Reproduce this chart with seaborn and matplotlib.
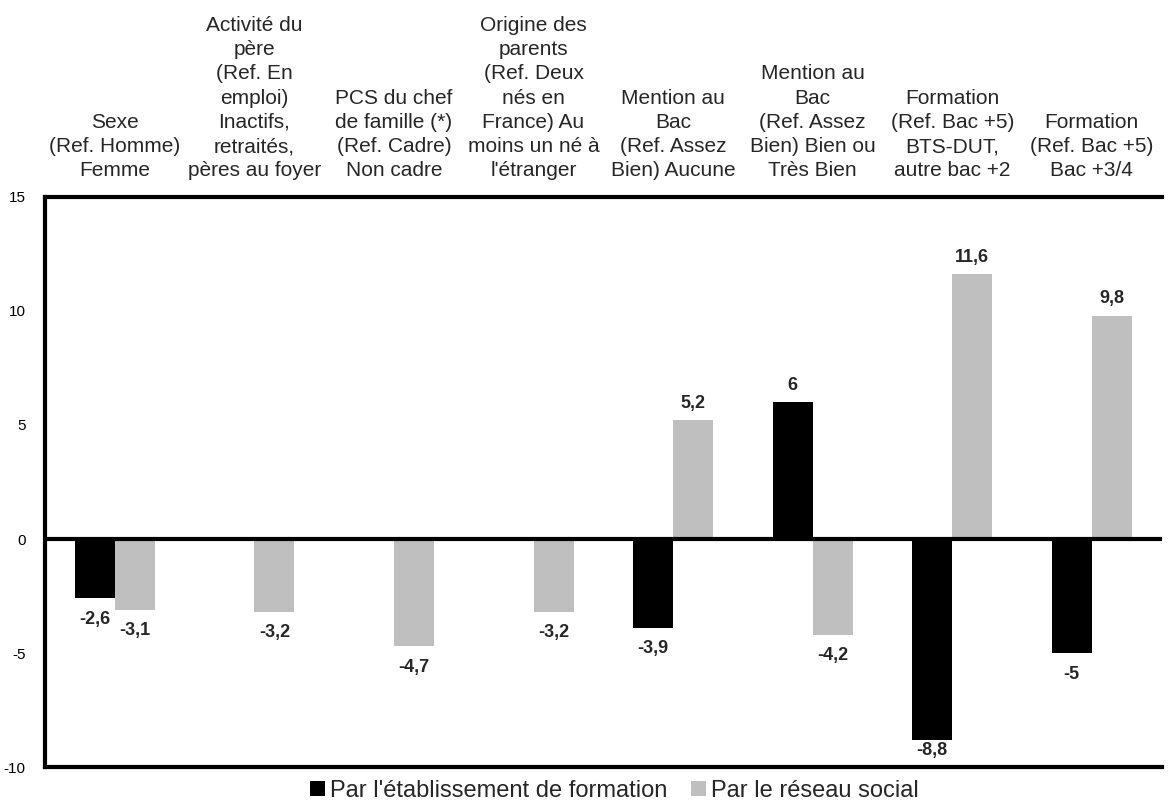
import numpy as np
import pandas as pd
import matplotlib
matplotlib.use("Agg")
import matplotlib.pyplot as plt
import seaborn as sns

categories = [
    "Sexe\n(Ref. Homme)\nFemme",
    "Activité du\npère\n(Ref. En\nemploi)\nInactifs,\nretraités,\npères au foyer",
    "PCS du chef\nde famille (*)\n(Ref. Cadre)\nNon cadre",
    "Origine des\nparents\n(Ref. Deux\nnés en\nFrance) Au\nmoins un né à\nl'étranger",
    "Mention au\nBac\n(Ref. Assez\nBien) Aucune",
    "Mention au\nBac\n(Ref. Assez\nBien) Bien ou\nTrès Bien",
    "Formation\n(Ref. Bac +5)\nBTS-DUT,\nautre bac +2",
    "Formation\n(Ref. Bac +5)\nBac +3/4",
]
etablissement = [-2.6, np.nan, np.nan, np.nan, -3.9, 6.0, -8.8, -5.0]
reseau = [-3.1, -3.2, -4.7, -3.2, 5.2, -4.2, 11.6, 9.8]
series_names = ["Par l'établissement de formation", "Par le réseau social"]
y_ticks = [-10, -5, 0, 5, 10, 15]

sns.set_theme(style="white")
plt.rcParams["font.family"] = ["Liberation Sans", "DejaVu Sans"]

df = pd.DataFrame({
    "cat": categories * 2,
    "serie": [series_names[0]] * len(categories) + [series_names[1]] * len(categories),
    "val": etablissement + reseau,
})

fig = plt.figure(figsize=(11.71, 8.02), dpi=100)
ax = fig.add_axes([0.0384, 0.0436, 0.9536, 0.7108])

sns.barplot(
    data=df, x="cat", y="val", hue="serie", order=categories,
    hue_order=series_names, palette=["#000000", "#BFBFBF"],
    width=0.574, linewidth=0, errorbar=None, ax=ax, legend=True,
)

ymin, ymax = -10, 15
ax.set_ylim(ymin, ymax)
ax.set_yticks(y_ticks)
ax.set_yticklabels([str(t) for t in y_ticks], fontsize=11)
ax.tick_params(axis="y", length=0, pad=14, colors="#000000")
ax.set_xlabel("")
ax.set_ylabel("")
ax.xaxis.tick_top()
ax.tick_params(axis="x", length=0, pad=12, labelsize=15)
ax.set_xticks(range(len(categories)))
ax.set_xticklabels(categories, fontsize=15, linespacing=1.35)

for side in ["left", "top", "bottom"]:
    ax.spines[side].set_linewidth(3)
    ax.spines[side].set_color("#000000")
ax.spines["right"].set_visible(False)
ax.axhline(0, color="#000000", linewidth=3, zorder=3)

# value labels: each bar is matched to its category by its position;
# a label that would cross the bottom frame is pulled up against its bar
for container, values in zip(ax.containers, [etablissement, reseau]):
    for bar in container:
        x = bar.get_x() + bar.get_width() / 2
        v = values[int(round(x))]
        if np.isnan(v):
            continue
        txt = f"{v:g}".replace(".", ",")
        if v >= 0:
            ax.annotate(txt, (x, v), xytext=(0, 6), textcoords="offset points",
                        ha="center", va="bottom", fontsize=13, fontweight="bold")
        else:
            room = v - ymin
            dy = -9 if room > 1.6 else -2
            ax.annotate(txt, (x, v), xytext=(0, dy), textcoords="offset points",
                        ha="center", va="top", fontsize=13, fontweight="bold")

handles, labels = ax.get_legend_handles_labels()
ax.legend_.remove()
fig.legend(handles, labels, loc="lower center", bbox_to_anchor=(0.525, -0.026),
           ncol=2, frameon=False, fontsize=17, handlelength=0.6, handleheight=0.6,
           handletextpad=0.25, columnspacing=1.0)

fig.savefig("out.png", dpi=100)
